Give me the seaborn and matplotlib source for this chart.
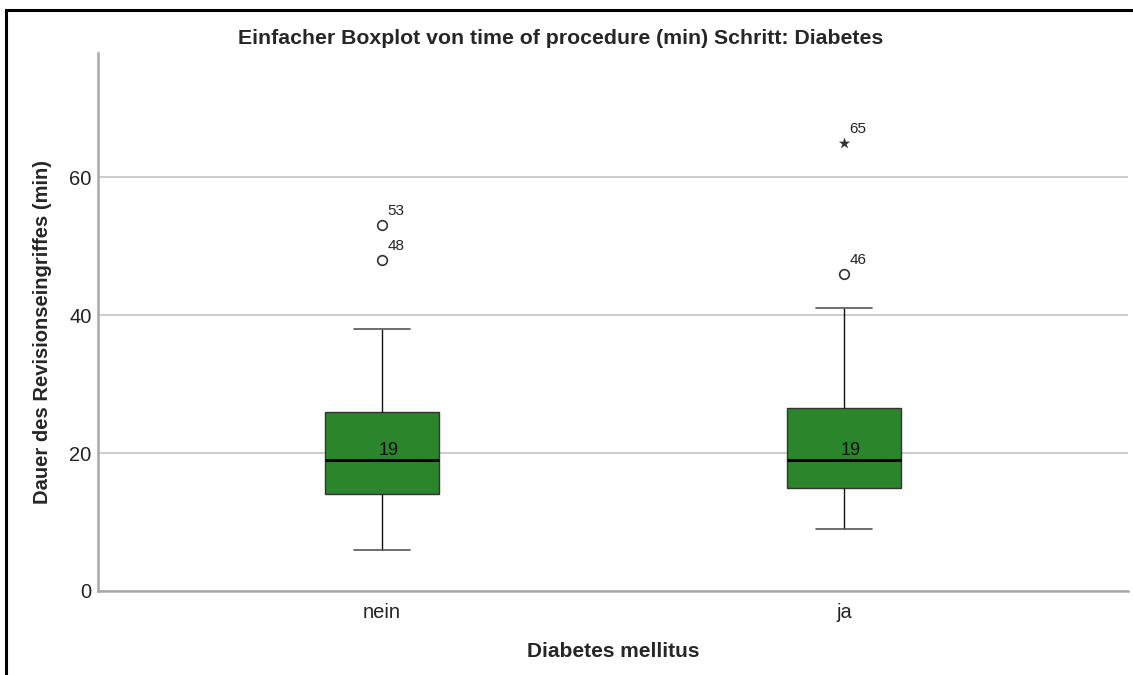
import matplotlib
matplotlib.use("Agg")
import matplotlib.pyplot as plt
import seaborn as sns
import pandas as pd
from matplotlib.patches import Rectangle

# ---- data ----
categories = ["nein", "ja"]
# five-number summaries (min whisker, Q1, median, Q3, max whisker)
nein_summary = [6, 14, 19, 26, 38]
ja_summary = [9, 15, 19, 26.5, 41]
medians = [19, 19]
# outliers: (category, value, case label, marker)
outlier_cat = ["nein", "nein", "ja", "ja"]
outlier_val = [53, 48, 46, 65]
outlier_lbl = ["53", "48", "46", "65"]
outlier_kind = ["o", "o", "o", "*"]
yticks = [0, 20, 40, 60]

title = "Einfacher Boxplot von time of procedure (min) Schritt: Diabetes"
xlabel = "Diabetes mellitus"
ylabel = "Dauer des Revisionseingriffes (min)"

sns.set_style("white")
plt.rcParams["font.family"] = ["Liberation Sans", "DejaVu Sans"]

fig = plt.figure(figsize=(11.33, 6.75), dpi=100)
ax = fig.add_axes([98/1133, 1-591/675, (1128-98)/1133, (591-53)/675])

df = pd.DataFrame({
    "cat": ["nein"]*5 + ["ja"]*5,
    "val": nein_summary + ja_summary,
})

green = "#2b852b"
sns.boxplot(data=df, x="cat", y="val", order=categories, color=green,
            saturation=1, width=0.245, whis=(0, 100), ax=ax,
            linewidth=1.0, linecolor="#222222",
            boxprops=dict(edgecolor="#333333", linewidth=1.0),
            medianprops=dict(color="black", linewidth=2.2),
            whiskerprops=dict(color="#111111", linewidth=1.0),
            capprops=dict(color="#555555", linewidth=1.2),
            zorder=3)

# outliers
odf = pd.DataFrame({"cat": outlier_cat, "val": outlier_val, "lbl": outlier_lbl, "kind": outlier_kind})
pos = {c: i for i, c in enumerate(categories)}
for _, r in odf.iterrows():
    if r["kind"] == "o":
        ax.scatter(pos[r["cat"]], r["val"], s=48, facecolor="white",
                   edgecolor="#333333", linewidth=1.2, zorder=4)
    else:
        ax.scatter(pos[r["cat"]], r["val"], s=75, marker="*", color="#333333",
                   linewidth=0, zorder=4)
    ax.annotate(r["lbl"], (pos[r["cat"]], r["val"]), xytext=(4, 5),
                textcoords="offset points", fontsize=11, color="#222222",
                ha="left", va="bottom")

# median labels
for i, m in enumerate(medians):
    ax.annotate(f"{m:g}", (i, m), xytext=(5, 1.0), textcoords="offset points",
                fontsize=13, color="#111111", ha="center", va="bottom", zorder=5)

ax.set_xlim(-0.615, 1.615)
ax.set_ylim(0, 78)
ax.set_yticks(yticks)
ax.yaxis.grid(True, color="#c4c4c4", linewidth=1.2, zorder=0)
ax.set_axisbelow(True)
ax.tick_params(axis="both", length=0, labelsize=14.5, colors="#222222")
ax.tick_params(axis="y", pad=4.5)
ax.tick_params(axis="x", pad=9)
for s in ["top", "right"]:
    ax.spines[s].set_visible(False)
for s in ["left", "bottom"]:
    ax.spines[s].set_color("#a8a8a8")
    ax.spines[s].set_linewidth(1.8)

ax.set_xlabel(xlabel, fontsize=15, fontweight="bold", labelpad=14)
ax.set_ylabel(ylabel, fontsize=14.5, fontweight="bold")
ax.yaxis.set_label_coords(-0.0447, (591-332)/538)
fig.text(561/1133, 1-38/675, title, fontsize=15.3, fontweight="bold",
         ha="center", va="center")

# outer frame (cropped screenshot border)
fig.patches.append(Rectangle((6/1133, -0.1), 1.2, 1-10/675+0.1,
                             transform=fig.transFigure, fill=False,
                             edgecolor="black", linewidth=2.2))

fig.savefig("out.png", dpi=100)
